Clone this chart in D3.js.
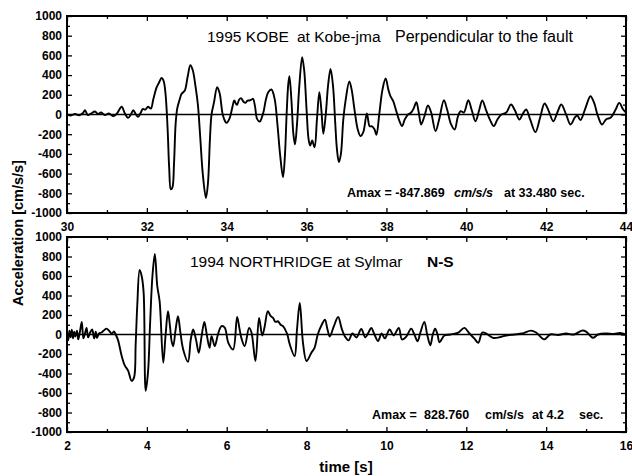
<!DOCTYPE html>
<html>
<head>
<meta charset="utf-8">
<script src="https://cdn.jsdelivr.net/npm/d3@7"></script>
<style>
body{margin:0;background:#fff}
svg{display:block}
text{font-family:"Liberation Sans",Arial,sans-serif;fill:#000}
</style>
</head>
<body>
<script>
// 1995 Kobe, Kobe-jma, perpendicular to fault
const kobeTime = [30.00,30.10,30.20,30.30,30.40,30.45,30.52,30.60,30.70,30.78,30.85,30.95,31.05,31.16,31.25,31.37,31.45,31.53,31.60,31.66,31.72,31.78,31.85,31.90,31.96,32.03,32.10,32.16,32.24,32.30,32.37,32.42,32.47,32.52,32.56,32.60,32.64,32.68,32.72,32.76,32.82,32.87,32.95,33.02,33.09,33.15,33.22,33.28,33.34,33.40,33.48,33.53,33.58,33.62,33.68,33.76,33.82,33.90,33.96,34.00,34.06,34.10,34.15,34.19,34.23,34.26,34.31,34.36,34.42,34.47,34.52,34.57,34.62,34.66,34.71,34.76,34.83,34.88,34.93,34.98,35.04,35.12,35.20,35.27,35.34,35.41,35.46,35.50,35.54,35.57,35.62,35.67,35.71,35.76,35.82,35.89,35.94,36.00,36.05,36.09,36.14,36.20,36.26,36.32,36.37,36.42,36.48,36.54,36.60,36.66,36.72,36.76,36.81,36.86,36.92,36.98,37.07,37.13,37.20,37.28,37.35,37.42,37.51,37.58,37.63,37.70,37.75,37.82,37.90,37.98,38.05,38.10,38.17,38.25,38.32,38.39,38.46,38.54,38.62,38.68,38.75,38.81,38.87,38.95,39.04,39.12,39.23,39.32,39.44,39.52,39.62,39.71,39.79,39.86,39.94,40.05,40.14,40.23,40.32,40.40,40.50,40.60,40.69,40.78,40.88,41.00,41.12,41.22,41.33,41.42,41.50,41.60,41.73,41.85,41.96,42.06,42.18,42.28,42.38,42.50,42.61,42.72,42.78,42.86,42.98,43.11,43.20,43.30,43.40,43.50,43.62,43.74,43.83,43.93,44.00];
const kobeAcc = [0,-10,5,-8,15,44,-5,10,30,5,20,-5,10,-17,10,78,10,-34,0,44,5,-24,20,57,50,78,60,152,270,320,372,340,200,-150,-550,-760,-740,-500,-100,60,150,210,243,380,500,450,280,91,-250,-600,-848,-700,-250,0,120,277,220,0,-70,-85,-50,0,90,142,110,98,150,166,130,118,140,142,150,159,80,-44,-71,-30,41,150,226,254,159,-100,-420,-636,-400,0,300,389,150,-200,-304,-100,300,582,450,50,-250,-315,-264,-332,-50,226,50,-196,0,300,463,300,-100,-350,-484,-400,-50,150,335,250,50,-150,-220,-180,10,-120,-118,-150,-206,0,250,365,250,186,135,30,-60,-118,-50,0,20,60,125,20,-101,-20,91,20,-169,-50,145,50,-100,-152,-20,34,20,145,40,-68,40,142,40,-60,-118,-50,0,20,101,40,-51,10,51,-50,-179,-30,112,40,-68,20,101,0,-101,-30,-10,-57,60,186,120,-20,-101,-50,-30,50,118,51,20];

// 1994 Northridge, Sylmar, N-S
const northTime = [2.00,2.03,2.06,2.09,2.12,2.15,2.18,2.21,2.25,2.28,2.32,2.37,2.41,2.45,2.49,2.53,2.58,2.63,2.68,2.72,2.75,2.80,2.86,2.92,2.99,3.05,3.12,3.18,3.22,3.28,3.37,3.45,3.53,3.62,3.68,3.72,3.76,3.82,3.87,3.92,3.97,4.03,4.08,4.14,4.20,4.26,4.32,4.41,4.47,4.53,4.58,4.62,4.66,4.72,4.78,4.84,4.91,5.03,5.10,5.16,5.23,5.30,5.37,5.44,5.50,5.57,5.62,5.70,5.78,5.87,5.95,6.04,6.16,6.26,6.32,6.37,6.45,6.56,6.62,6.72,6.81,6.89,6.95,7.03,7.10,7.16,7.22,7.28,7.35,7.41,7.51,7.58,7.70,7.76,7.83,7.91,8.00,8.12,8.20,8.28,8.38,8.46,8.52,8.58,8.68,8.79,8.88,8.96,9.05,9.15,9.25,9.37,9.47,9.55,9.62,9.70,9.79,9.88,9.96,10.08,10.18,10.31,10.39,10.50,10.62,10.70,10.78,10.85,10.95,11.02,11.10,11.16,11.22,11.28,11.33,11.45,11.60,11.80,11.95,12.08,12.20,12.30,12.40,12.50,12.67,12.82,13.00,13.20,13.40,13.62,13.75,13.95,14.10,14.30,14.50,14.70,14.90,15.00,15.17,15.30,15.50,15.70,15.85,16.00];
const northAcc = [0,-60,40,-30,50,-40,30,-20,40,-50,20,129,-40,10,68,-30,20,51,-40,30,-34,10,20,40,60,40,10,30,0,-60,-221,-320,-370,-476,-440,-100,300,663,600,425,-578,-380,100,600,826,500,340,-289,0,238,80,-68,-120,50,187,20,-153,-280,-50,51,-50,-187,-20,129,0,-136,-17,-119,0,85,70,-85,-153,180,60,-40,-119,68,20,-272,170,-10,80,238,190,170,130,136,100,85,10,-102,-221,50,323,-85,-272,-187,-136,0,100,153,60,-20,80,180,60,-20,-60,10,-30,57,-30,20,68,0,-68,10,-40,51,-10,68,-51,-20,60,0,-70,20,130,0,-110,0,60,0,-80,-10,0,20,68,10,-40,-85,20,10,-34,-30,-10,0,10,40,20,-50,0,-5,10,0,40,30,-34,0,10,5,15,0];

const yTicks = [-1000,-800,-600,-400,-200,0,200,400,600,800,1000];
const kobeXTicks = [30,32,34,36,38,40,42,44];
const northXTicks = [2,4,6,8,10,12,14,16];

const w = 632, h = 476;
const left = 67, right = 626;

const svg = d3.select("body").append("svg")
  .attr("width", w)
  .attr("height", h);

const panels = [
  {id: "kobe", time: kobeTime, acc: kobeAcc, ticks: kobeXTicks, top: 16, bottom: 213},
  {id: "north", time: northTime, acc: northAcc, ticks: northXTicks, top: 237, bottom: 432}
];

const styleAxis = g => {
  g.select(".domain").remove();
  g.selectAll("line").attr("stroke", "#000").attr("stroke-width", 1.3);
  g.attr("font-family", '"Liberation Sans", Arial, sans-serif')
   .attr("font-size", 12)
   .attr("font-weight", "bold");
};

panels.forEach(p => {
  const x = d3.scaleLinear()
    .domain(d3.extent(p.ticks))
    .range([left, right]);
  const y = d3.scaleLinear()
    .domain([-1000, 1000])
    .range([p.bottom, p.top]);

  const minorX = d3.range(p.ticks[0] + 1, p.ticks[p.ticks.length - 1], 2);
  const minorY = d3.range(-900, 1000, 200);

  // major ticks with labels
  svg.append("g")
    .attr("transform", `translate(${left},0)`)
    .call(d3.axisLeft(y).tickValues(yTicks).tickSize(-5).tickPadding(5).tickFormat(d => String(d)))
    .call(styleAxis);
  svg.append("g")
    .attr("transform", `translate(0,${p.bottom})`)
    .call(d3.axisBottom(x).tickValues(p.ticks).tickSize(-5).tickPadding(9).tickFormat(d => String(d)))
    .call(styleAxis);
  svg.append("g")
    .attr("transform", `translate(${right},0)`)
    .call(d3.axisRight(y).tickValues(yTicks).tickSize(-5).tickFormat(""))
    .call(styleAxis);
  svg.append("g")
    .attr("transform", `translate(0,${p.top})`)
    .call(d3.axisTop(x).tickValues(p.ticks).tickSize(-5).tickFormat(""))
    .call(styleAxis);

  // minor ticks
  svg.append("g")
    .attr("transform", `translate(${left},0)`)
    .call(d3.axisLeft(y).tickValues(minorY).tickSize(-3).tickFormat(""))
    .call(styleAxis);
  svg.append("g")
    .attr("transform", `translate(${right},0)`)
    .call(d3.axisRight(y).tickValues(minorY).tickSize(-3).tickFormat(""))
    .call(styleAxis);
  svg.append("g")
    .attr("transform", `translate(0,${p.bottom})`)
    .call(d3.axisBottom(x).tickValues(minorX).tickSize(-3).tickFormat(""))
    .call(styleAxis);
  svg.append("g")
    .attr("transform", `translate(0,${p.top})`)
    .call(d3.axisTop(x).tickValues(minorX).tickSize(-3).tickFormat(""))
    .call(styleAxis);

  svg.append("clipPath")
    .attr("id", "clip-" + p.id)
    .append("rect")
    .attr("x", left).attr("y", p.top)
    .attr("width", right - left).attr("height", p.bottom - p.top);

  // zero line
  svg.append("line")
    .attr("x1", left).attr("x2", right)
    .attr("y1", y(0)).attr("y2", y(0))
    .attr("stroke", "#000")
    .attr("stroke-width", 1.6);

  const line = d3.line()
    .x(i => x(p.time[i]))
    .y(i => y(p.acc[i]))
    .curve(d3.curveCatmullRom.alpha(0.5));

  svg.append("path")
    .datum(d3.range(p.time.length))
    .attr("clip-path", `url(#clip-${p.id})`)
    .attr("d", line)
    .attr("fill", "none")
    .attr("stroke", "#000")
    .attr("stroke-width", 1.9)
    .attr("stroke-linejoin", "round");

  // frame
  svg.append("rect")
    .attr("x", left).attr("y", p.top)
    .attr("width", right - left).attr("height", p.bottom - p.top)
    .attr("fill", "none")
    .attr("stroke", "#000")
    .attr("stroke-width", 2);
});

// titles
const label = (txt, x, y, size, weight, style) =>
  svg.append("text")
    .attr("x", x).attr("y", y)
    .attr("font-size", size)
    .attr("font-weight", weight || "normal")
    .attr("font-style", style || "normal")
    .text(txt);

label("1995 KOBE", 207, 42, 15.5);
label("at Kobe-jma", 297, 42, 15.5);
label("Perpendicular to the fault", 395, 42, 16);

label("Amax = -847.869", 347, 197, 12.5, "bold");
label("cm/s/s", 454, 197, 12.5, "bold", "italic");
label("at 33.480 sec.", 504, 197, 12.5, "bold");

label("1994 NORTHRIDGE at Sylmar", 190, 267, 15.5);
label("N-S", 427, 267, 15.5, "bold");

label("Amax =", 372, 419, 12.5, "bold");
label("828.760", 424, 419, 12.5, "bold");
label("cm/s/s", 485, 419, 12.5, "bold");
label("at 4.2", 532, 419, 12.5, "bold");
label("sec.", 579, 419, 12.5, "bold");

// axis titles
svg.append("text")
  .attr("transform", "translate(23,233) rotate(-90)")
  .attr("text-anchor", "middle")
  .attr("font-size", 14.5)
  .attr("font-weight", "bold")
  .text("Acceleration [cm/s/s]");

svg.append("text")
  .attr("x", 346).attr("y", 472)
  .attr("text-anchor", "middle")
  .attr("font-size", 15)
  .attr("font-weight", "bold")
  .text("time [s]");
</script>
</body>
</html>
